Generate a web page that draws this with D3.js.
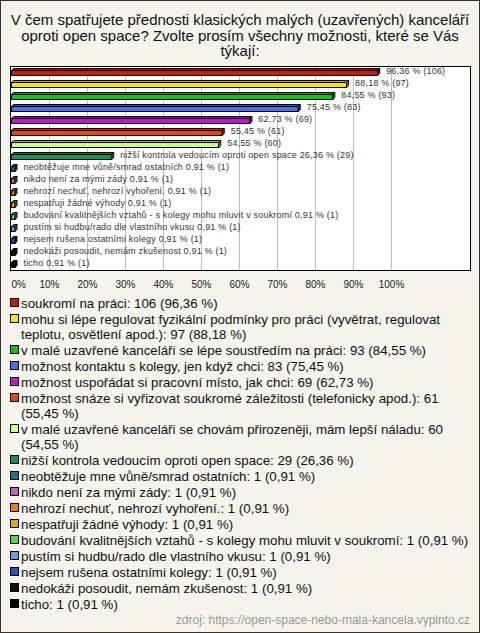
<!DOCTYPE html>
<html>
<head>
<meta charset="utf-8">
<script src="https://cdn.jsdelivr.net/npm/d3@7"></script>
<style>
  body { margin: 0; background: #fff; }
  svg { display: block; font-family: "Liberation Sans", Arial, sans-serif; }
</style>
</head>
<body>
<div id="chart"></div>
<script>
// Chart data
var titleLines = [
    'V čem spatřujete přednosti klasických malých (uzavřených) kanceláří',
    'oproti open space? Zvolte prosím všechny možnosti, které se Vás',
    'týkají:'
];

var categories = [
    'soukromí na práci',
    'mohu si lépe regulovat fyzikální podmínky pro práci (vyvětrat, regulovat teplotu, osvětlení apod.)',
    'v malé uzavřené kanceláři se lépe soustředím na práci',
    'možnost kontaktu s kolegy, jen když chci',
    'možnost uspořádat si pracovní místo, jak chci',
    'možnost snáze si vyřizovat soukromé záležitosti (telefonicky apod.)',
    'v malé uzavřené kanceláři se chovám přirozeněji, mám lepší náladu',
    'nižší kontrola vedoucím oproti open space',
    'neobtěžuje mne vůně/smrad ostatních',
    'nikdo není za mými zády',
    'nehrozí nechuť, nehrozí vyhoření.',
    'nespatřuji žádné výhody',
    'budování kvalitnějších vztahů - s kolegy mohu mluvit v soukromí',
    'pustím si hudbu/rado dle vlastního vkusu',
    'nejsem rušena ostatními kolegy',
    'nedokáži posoudit, nemám zkušenost',
    'ticho'
];

var counts = [106, 97, 93, 83, 69, 61, 60, 29, 1, 1, 1, 1, 1, 1, 1, 1, 1];
var percents = [96.36, 88.18, 84.55, 75.45, 62.73, 55.45, 54.55, 26.36, 0.91, 0.91, 0.91, 0.91, 0.91, 0.91, 0.91, 0.91, 0.91];

var colors = ['#c81e0a', '#ffe400', '#16c016', '#4a6ef0', '#c018d0', '#ee4010', '#ccff88', '#10965a',
              '#127888', '#c060c0', '#ee7a10', '#e0aa00', '#44dd44', '#6c9aee', '#2456c0', '#111111', '#050505'];

var xTicks = [0, 10, 20, 30, 40, 50, 60, 70, 80, 90, 100];
var sourceText = 'zdroj: https://open-space-nebo-mala-kancela.vyplnto.cz';

var svgWidth = 480, svgHeight = 633;

function fmt(v) {
    return v.toFixed(2).replace('.', ',');
}

var svg = d3.select('#chart')
    .append('svg')
        .attr('width', svgWidth)
        .attr('height', svgHeight);

// background + outer frame
svg.append('rect')
    .attr('x', 0.5).attr('y', 0.5)
    .attr('width', svgWidth - 1).attr('height', svgHeight - 1)
    .attr('fill', '#f4f3ec')
    .attr('stroke', '#333');

// title
svg.append('g')
    .selectAll('text')
    .data(titleLines)
    .enter()
    .append('text')
        .attr('x', 240)
        .attr('y', function(d, i) { return 25 + i * 15.5; })
        .attr('text-anchor', 'middle')
        .attr('font-size', '15px')
        .attr('fill', '#111')
        .text(function(d) { return d; });

// plot area
var plot = { left: 10, top: 66, right: 470, bottom: 270 };

var x = d3.scaleLinear()
    .domain([0, 100])
    .range([11, 391]);

var y = d3.scaleBand()
    .domain(d3.range(categories.length))
    .range([plot.top, plot.bottom]);

svg.append('rect')
    .attr('x', plot.left + 0.5).attr('y', plot.top + 0.5)
    .attr('width', plot.right - plot.left).attr('height', plot.bottom - plot.top)
    .attr('fill', '#fff')
    .attr('stroke', '#000');

// gridlines
svg.append('g')
    .selectAll('line')
    .data(xTicks.slice(1))
    .enter()
    .append('line')
        .attr('x1', function(d) { return Math.round(x(d)) + 0.5; })
        .attr('x2', function(d) { return Math.round(x(d)) + 0.5; })
        .attr('y1', plot.top + 1)
        .attr('y2', plot.bottom)
        .attr('stroke', '#bbb');

// 3D bars
var depth = 2;
var bars = svg.append('g')
    .selectAll('g')
    .data(percents)
    .enter()
    .append('g');

function barTop(i) { return Math.round(y(i) + y.bandwidth() / 2) - 2; }

bars.append('rect')
    .attr('x', x(0) + 0.5)
    .attr('y', function(d, i) { return barTop(i) + 0.5; })
    .attr('width', function(d) { return x(d) - x(0); })
    .attr('height', 5)
    .attr('fill', function(d, i) { return colors[i]; })
    .attr('stroke', '#000');

bars.append('path')
    .attr('d', function(d, i) {
        var x0 = x(0) + 0.5, x1 = x(d) + 0.5, t = barTop(i) + 0.5;
        return 'M' + x0 + ',' + t + 'L' + (x0 + depth) + ',' + (t - depth) +
               'L' + (x1 + depth) + ',' + (t - depth) + 'L' + x1 + ',' + t + 'Z';
    })
    .attr('fill', function(d, i) { return d3.color(colors[i]).darker(0.8); })
    .attr('stroke', '#000');

bars.append('path')
    .attr('d', function(d, i) {
        var x1 = x(d) + 0.5, t = barTop(i) + 0.5;
        return 'M' + x1 + ',' + t + 'L' + (x1 + depth) + ',' + (t - depth) +
               'L' + (x1 + depth) + ',' + (t + 5 - depth) + 'L' + x1 + ',' + (t + 5) + 'Z';
    })
    .attr('fill', function(d, i) { return d3.color(colors[i]).darker(1.2); })
    .attr('stroke', '#000');

// bar labels
bars.append('text')
    .attr('x', function(d) { return x(d) + 9; })
    .attr('y', function(d, i) { return y(i) + y.bandwidth() / 2 + 2; })
    .attr('font-size', '9px')
    .attr('letter-spacing', '0.2px')
    .attr('fill', '#333')
    .text(function(d, i) {
        var v = fmt(d) + ' % (' + counts[i] + ')';
        return d < 40 ? categories[i] + ' ' + v : v;
    });

// x axis
var xAxis = svg.append('g')
    .attr('transform', 'translate(0,' + (plot.bottom + 8) + ')')
    .call(d3.axisBottom(x).tickValues(xTicks).tickSize(0).tickFormat(function(d) { return d + '%'; }));
xAxis.select('.domain').remove();
xAxis.selectAll('text')
    .attr('font-family', '"Liberation Sans", Arial, sans-serif')
    .attr('font-size', '10px')
    .attr('fill', '#222');
xAxis.selectAll('.tick')
    .filter(function(d) { return d === 0; })
    .select('text')
    .attr('text-anchor', 'start');

// legend
var legend = svg.append('g');
var lx = 21, maxW = 450, lineH = 15, gap = 16;
var ly = 308;

categories.forEach(function(c, i) {
    // keep "(xx,xx %)" together like the original
    var label = c + ': ' + counts[i] + ' (' + fmt(percents[i]) + '\u00a0%)';
    var words = label.split(' ');
    var t = legend.append('text')
        .attr('x', lx)
        .attr('y', ly)
        .attr('font-size', '13.3px')
        .attr('fill', '#111');
    var line = [], lines = 0;
    var tspan = t.append('tspan').attr('x', lx).attr('y', ly);
    words.forEach(function(w) {
        line.push(w);
        tspan.text(line.join(' '));
        if (tspan.node().getComputedTextLength() > maxW && line.length > 1) {
            line.pop();
            tspan.text(line.join(' '));
            line = [w];
            lines++;
            tspan = t.append('tspan').attr('x', lx).attr('y', ly + lines * lineH).text(w);
        }
    });
    legend.append('rect')
        .attr('x', 10.5).attr('y', ly - 9.5)
        .attr('width', 8).attr('height', 8)
        .attr('fill', colors[i])
        .attr('stroke', '#000');
    ly += lines * lineH + gap;
});

// source
svg.append('text')
    .attr('x', 470)
    .attr('y', 624)
    .attr('text-anchor', 'end')
    .attr('font-size', '12px')
    .attr('fill', '#999')
    .text(sourceText);
</script>
</body>
</html>
